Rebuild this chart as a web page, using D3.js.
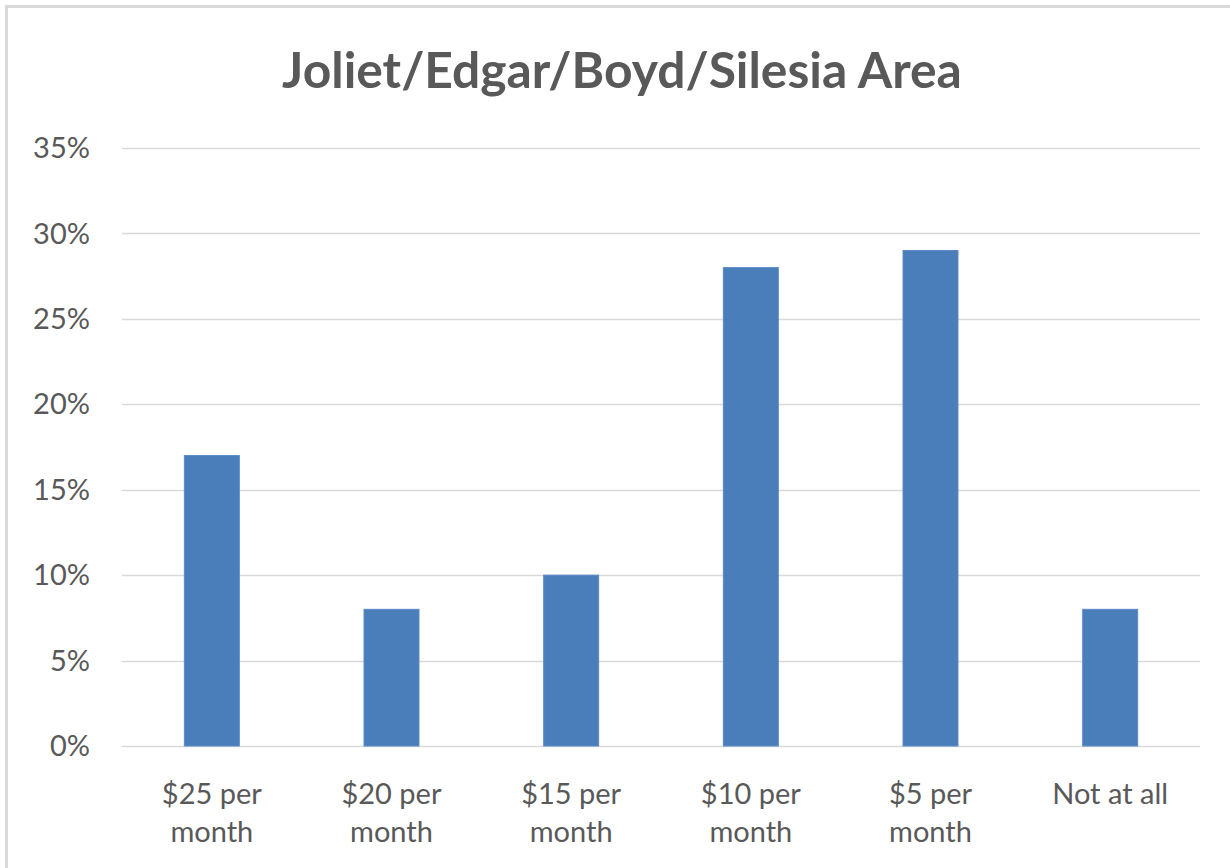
<!DOCTYPE html>
<html>
<head>
<meta charset="utf-8">
<script src="https://cdn.jsdelivr.net/npm/d3@7"></script>
<style>
  html, body { margin: 0; padding: 0; background: #fff; }
  svg { display: block; }
</style>
</head>
<body>
<div id="chart"></div>
<script>
var categories = ["$25 per|month", "$20 per|month", "$15 per|month", "$10 per|month", "$5 per|month", "Not at all"];
var values = [0.17, 0.08, 0.10, 0.28, 0.29, 0.08];
var yTicks = [0, 0.05, 0.10, 0.15, 0.20, 0.25, 0.30, 0.35];
var title = "Joliet/Edgar/Boyd/Silesia Area";

var width = 1230, height = 868;
var margin = { top: 148, right: 30, bottom: 122, left: 122 };
var font = "Lato, 'Open Sans', sans-serif";

var svg = d3.select("#chart").append("svg")
    .attr("width", width)
    .attr("height", height);

// outer frame (right and bottom run off the picture)
svg.append("rect")
    .attr("x", 6.5).attr("y", 6.5)
    .attr("width", width + 20).attr("height", height + 20)
    .style("fill", "#fff")
    .style("stroke", "#d9d9d9")
    .style("stroke-width", 3);

var x = d3.scaleBand()
    .domain(categories)
    .range([margin.left, width - margin.right])
    .paddingInner(0.694)
    .paddingOuter(0.347);

var y = d3.scaleLinear()
    .domain([0, 0.35])
    .range([height - margin.bottom, margin.top]);

// gridlines
svg.append("g")
    .selectAll("line")
    .data(yTicks)
    .join("line")
    .attr("x1", margin.left)
    .attr("x2", width - margin.right)
    .attr("y1", function(d) { return Math.round(y(d)) + 0.5; })
    .attr("y2", function(d) { return Math.round(y(d)) + 0.5; })
    .style("stroke", "#d9d9d9")
    .style("stroke-width", 1.5);

// y labels
svg.append("g")
    .selectAll("text")
    .data(yTicks)
    .join("text")
    .attr("x", 90)
    .attr("y", function(d) { return y(d); })
    .attr("dy", "0.35em")
    .attr("text-anchor", "end")
    .style("font-family", font)
    .style("font-size", "29px")
    .style("fill", "#595959")
    .text(d3.format(".0%"));

// bars
svg.append("g")
    .selectAll("rect")
    .data(values)
    .join("rect")
    .attr("x", function(d, i) { return x(categories[i]); })
    .attr("width", x.bandwidth())
    .attr("y", function(d) { return y(d); })
    .attr("height", function(d) { return y(0) - y(d); })
    .style("fill", "#4a7ebb")
    .style("stroke", "#5b8ac6")
    .style("stroke-width", 1);

// category labels
var catLabels = svg.append("g")
    .selectAll("text")
    .data(categories)
    .join("text")
    .attr("text-anchor", "middle")
    .style("font-family", font)
    .style("font-size", "29px")
    .style("fill", "#595959");

catLabels.each(function(d) {
    var lines = d.split("|");
    var cx = x(d) + x.bandwidth() / 2;
    d3.select(this).selectAll("tspan")
        .data(lines)
        .join("tspan")
        .attr("x", cx)
        .attr("y", function(l, j) { return 804 + j * 38; })
        .text(function(l) { return l; });
});

// title
var t = svg.append("text")
    .attr("x", 622)
    .attr("y", 88)
    .attr("text-anchor", "middle")
    .style("font-family", font)
    .style("font-weight", "bold")
    .style("font-size", "42px")
    .style("fill", "#595959")
    .text(title);
var tw = t.node().getComputedTextLength();
t.style("font-size", (42 * 680 / tw) + "px");
</script>
</body>
</html>
